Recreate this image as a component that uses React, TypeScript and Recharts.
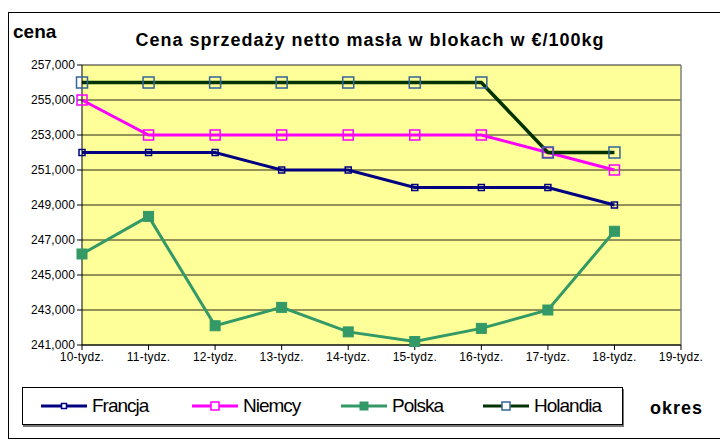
import React from "react";
import { LineChart, Line, XAxis, YAxis, CartesianGrid, ReferenceLine } from "recharts";

const weeks = ["10-tydz.", "11-tydz.", "12-tydz.", "13-tydz.", "14-tydz.", "15-tydz.", "16-tydz.", "17-tydz.", "18-tydz.", "19-tydz."];
const francja = [252000, 252000, 252000, 251000, 251000, 250000, 250000, 250000, 249000, null];
const niemcy = [255000, 253000, 253000, 253000, 253000, 253000, 253000, 252000, 251000, null];
const polska = [246200, 248350, 242100, 243150, 241750, 241200, 241950, 243000, 247500, null];
const holandia = [256000, 256000, 256000, 256000, 256000, 256000, 256000, 252000, 252000, null];
const yTicks = [241000, 243000, 245000, 247000, 249000, 251000, 253000, 255000, 257000];

const data = weeks.map((w, i) => ({
  week: w,
  Francja: francja[i],
  Niemcy: niemcy[i],
  Polska: polska[i],
  Holandia: holandia[i],
}));

type MarkerStyle = { size: number; legendSize: number; stroke: string; fill: string; sw: number };

const series: { key: string; color: string; width: number; marker: MarkerStyle }[] = [
  { key: "Francja", color: "#000080", width: 3, marker: { size: 6, legendSize: 5, stroke: "#000080", fill: "none", sw: 1.5 } },
  { key: "Niemcy", color: "#FF00FF", width: 3, marker: { size: 10, legendSize: 8, stroke: "#FF00FF", fill: "none", sw: 1.5 } },
  { key: "Polska", color: "#339966", width: 3, marker: { size: 10, legendSize: 8, stroke: "#339966", fill: "#339966", sw: 1 } },
  { key: "Holandia", color: "#003300", width: 3.5, marker: { size: 11, legendSize: 8, stroke: "#336699", fill: "none", sw: 1.5 } },
];

const makeDot = (m: MarkerStyle) => (props: any) => {
  const { cx, cy, index } = props;
  if (cx == null || cy == null || props.value == null) return <g key={index} />;
  return (
    <rect
      key={index}
      x={cx - m.size / 2}
      y={cy - m.size / 2}
      width={m.size}
      height={m.size}
      fill={m.fill}
      stroke={m.stroke}
      strokeWidth={m.sw}
    />
  );
};

const font = "'Liberation Sans', Arial, sans-serif";

export default function App() {
  const legendLefts = [18, 169, 318, 460];
  return (
    <div
      style={{
        position: "relative",
        marginTop: 4,
        width: 713,
        height: 425,
        border: "1px solid #000",
        fontFamily: font,
        background: "#fff",
      }}
    >
      <div style={{ position: "absolute", left: 4, top: 8, fontSize: 19, fontWeight: "bold", whiteSpace: "nowrap" }}>cena</div>
      <div
        style={{
          position: "absolute",
          left: 0,
          width: 722,
          top: 17,
          textAlign: "center",
          fontSize: 18,
          fontWeight: "bold",
          letterSpacing: 1,
          whiteSpace: "nowrap",
        }}
      >
        Cena sprzedaży netto masła w blokach w €/100kg
      </div>
      <div style={{ position: "absolute", left: 0, top: 0 }}>
        <LineChart width={712} height={424} data={data} margin={{ top: 52, right: 40, bottom: 70, left: 0 }}>
          <CartesianGrid horizontal vertical={false} stroke="#000" strokeOpacity={0.85} fill="#FFFF99" fillOpacity={1} />
          <XAxis
            dataKey="week"
            interval={0}
            height={22}
            tick={{ fontSize: 12, fill: "#000", letterSpacing: 0.2 }}
            tickLine={{ stroke: "#000" }}
            axisLine={{ stroke: "#000" }}
            tickSize={5}
            tickMargin={2}
          />
          <YAxis
            domain={[241000, 257000]}
            ticks={yTicks}
            width={73}
            interval={0}
            tickFormatter={(v: number) => v.toLocaleString("en-US")}
            tick={{ fontSize: 12, fill: "#000", letterSpacing: 0.1 }}
            tickLine={{ stroke: "#000" }}
            axisLine={{ stroke: "#000" }}
            tickSize={5}
            tickMargin={2}
          />
          <ReferenceLine x="19-tydz." stroke="#808080" strokeWidth={1.5} />
          {series.map((s) => (
            <Line
              key={s.key}
              dataKey={s.key}
              stroke={s.color}
              strokeWidth={s.width}
              dot={makeDot(s.marker)}
              activeDot={false}
              isAnimationActive={false}
              connectNulls={false}
            />
          ))}
        </LineChart>
      </div>
      <div
        style={{
          position: "absolute",
          left: 13,
          top: 374,
          width: 599,
          height: 36,
          border: "1px solid #000",
          boxShadow: "1px 2px 0 #777",
          background: "#fff",
        }}
      >
        {series.map((s, i) => {
          const m = s.marker;
          const ls = m.legendSize;
          return (
            <div
              key={s.key}
              style={{ position: "absolute", left: legendLefts[i], top: 0, height: 36, display: "flex", alignItems: "center" }}
            >
              <svg width={46} height={14} style={{ display: "block" }}>
                <line x1={0} y1={7} x2={46} y2={7} stroke={s.color} strokeWidth={3} />
                <rect
                  x={23 - ls / 2}
                  y={7 - ls / 2}
                  width={ls}
                  height={ls}
                  fill={m.fill === "none" ? "#fff" : m.fill}
                  stroke={m.stroke}
                  strokeWidth={m.sw}
                />
              </svg>
              <span style={{ marginLeft: 5, fontSize: 19, letterSpacing: -1, whiteSpace: "nowrap" }}>{s.key}</span>
            </div>
          );
        })}
      </div>
      <div style={{ position: "absolute", left: 641, top: 385, fontSize: 18, fontWeight: "bold", letterSpacing: 1 }}>okres</div>
    </div>
  );
}
